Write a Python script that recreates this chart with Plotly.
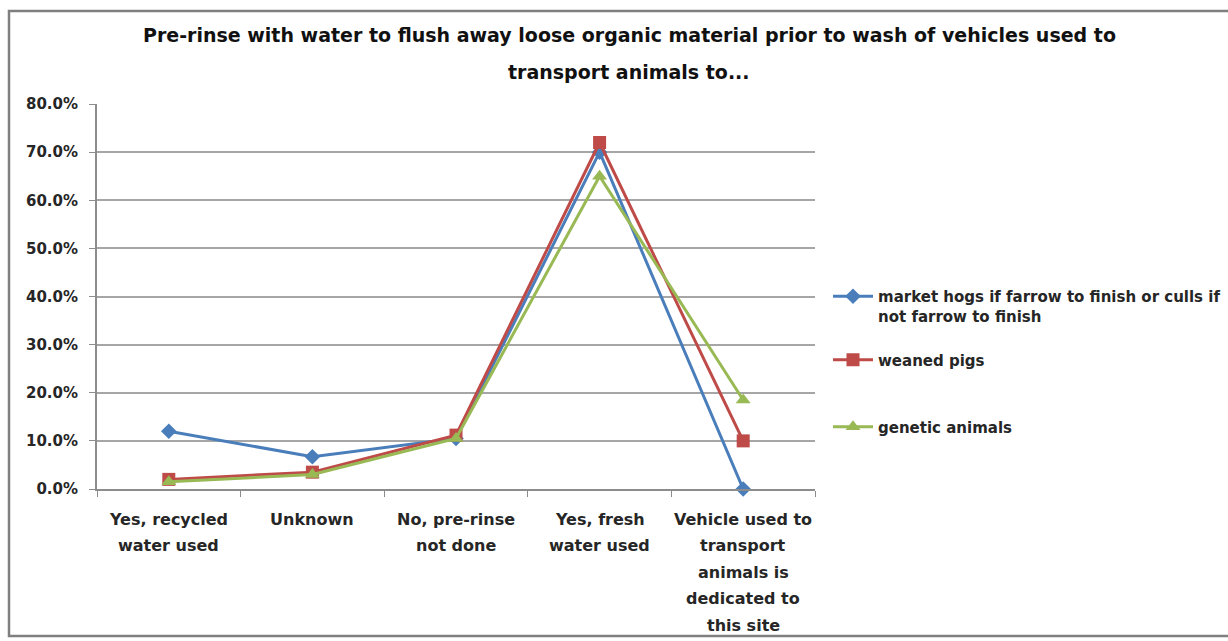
import plotly.graph_objects as go

categories = ["Yes, recycled water used", "Unknown", "No, pre-rinse not done",
              "Yes, fresh water used",
              "Vehicle used to transport animals is dedicated to this site"]
category_lines = [["Yes, recycled", "water used"], ["Unknown"], ["No, pre-rinse", "not done"],
                  ["Yes, fresh", "water used"],
                  ["Vehicle used to", "transport", "animals is", "dedicated to", "this site"]]
market_hogs = [12.0, 6.7, 10.5, 70.0, 0.0]
weaned_pigs = [2.0, 3.5, 11.2, 72.0, 10.0]
genetic_animals = [1.5, 3.0, 10.5, 65.0, 18.5]
series_names = ["market hogs if farrow to finish or culls if<br>not farrow to finish",
                "weaned pigs", "genetic animals"]
y_ticks = [0, 10, 20, 30, 40, 50, 60, 70, 80]
y_ticktext = [f"{v:.1f}%" for v in y_ticks]
title_lines = ["Pre-rinse with water to flush away loose organic material prior to wash of vehicles used to",
               "transport animals to..."]

colors = ["#4A7EBB", "#BE4B48", "#98B954"]
symbols = ["diamond", "square", "triangle-up"]
sizes = [12, 13, 13]
FONT = "DejaVu Sans, sans-serif"
TXT = "#262626"

W, H = 1228, 641
l, r, t, b = 97, 413, 104, 152
pw, ph = W - l - r, H - t - b

def px(x):
    return (x - l) / pw

def py(y):
    return (H - b - y) / ph

legend_names = ["legend", "legend2", "legend3"]
fig = go.Figure()
for i, (name, vals) in enumerate(zip(series_names, [market_hogs, weaned_pigs, genetic_animals])):
    fig.add_trace(go.Scatter(
        x=categories, y=vals, name=name, mode="lines+markers",
        line=dict(color=colors[i], width=3),
        marker=dict(symbol=symbols[i], size=sizes[i], color=colors[i]),
        cliponaxis=False, legend=legend_names[i]))

annotations = []
for j, tl in enumerate(title_lines):
    annotations.append(dict(text=f"<b>{tl}</b>", xref="paper", yref="paper",
                            x=px(629), y=py(35 + 37 * j), xanchor="center", yanchor="middle",
                            showarrow=False, font=dict(family=FONT, size=19, color="#111111")))
for cat, lines in zip(categories, category_lines):
    for k, line in enumerate(lines):
        annotations.append(dict(text=f"<b>{line}</b>", xref="x", yref="paper",
                                x=cat, y=py(519 + 26.5 * k), xanchor="center", yanchor="middle",
                                showarrow=False, font=dict(family=FONT, size=16, color=TXT)))

leg_common = dict(font=dict(family=FONT, size=15, color=TXT, weight="bold"),
                  bgcolor="rgba(0,0,0,0)", itemwidth=40, xanchor="left",
                  xref="container", yref="container", x=828 / W)

def cy(y):
    return 1 - y / H

fig.update_layout(
    width=W, height=H,
    margin=dict(l=l, r=r, t=t, b=b, autoexpand=False),
    paper_bgcolor="white", plot_bgcolor="white",
    font=dict(family=FONT, color=TXT),
    showlegend=True,
    legend=dict(**leg_common, y=cy(280), yanchor="top", valign="top"),
    legend2=dict(**leg_common, y=cy(360), yanchor="middle"),
    legend3=dict(**leg_common, y=cy(427), yanchor="middle"),
    annotations=annotations,
    shapes=[dict(type="rect", xref="paper", yref="paper",
                 x0=px(9), x1=px(1240), y0=py(636), y1=py(11),
                 line=dict(color="#7f7f7f", width=2.5), fillcolor="rgba(0,0,0,0)", layer="below")],
)
fig.update_xaxes(showgrid=False, showline=True, linecolor="#8c8c8c", linewidth=2,
                 ticks="outside", tickson="boundaries", ticklen=6, tickcolor="#8c8c8c",
                 showticklabels=False, range=[-0.5, 4.5])
fig.update_yaxes(range=[0, 80], tickvals=y_ticks, ticktext=y_ticktext,
                 showgrid=True, gridcolor="#a6a6a6", gridwidth=2,
                 showline=True, linecolor="#8c8c8c", linewidth=2,
                 ticks="outside", ticklen=6, tickcolor="#8c8c8c", ticklabelstandoff=8,
                 tickfont=dict(family=FONT, size=15, color=TXT, weight="bold"), zeroline=False)

fig.write_html("out.html", config={"displayModeBar": False},
               post_script="document.body.style.margin='0';")
